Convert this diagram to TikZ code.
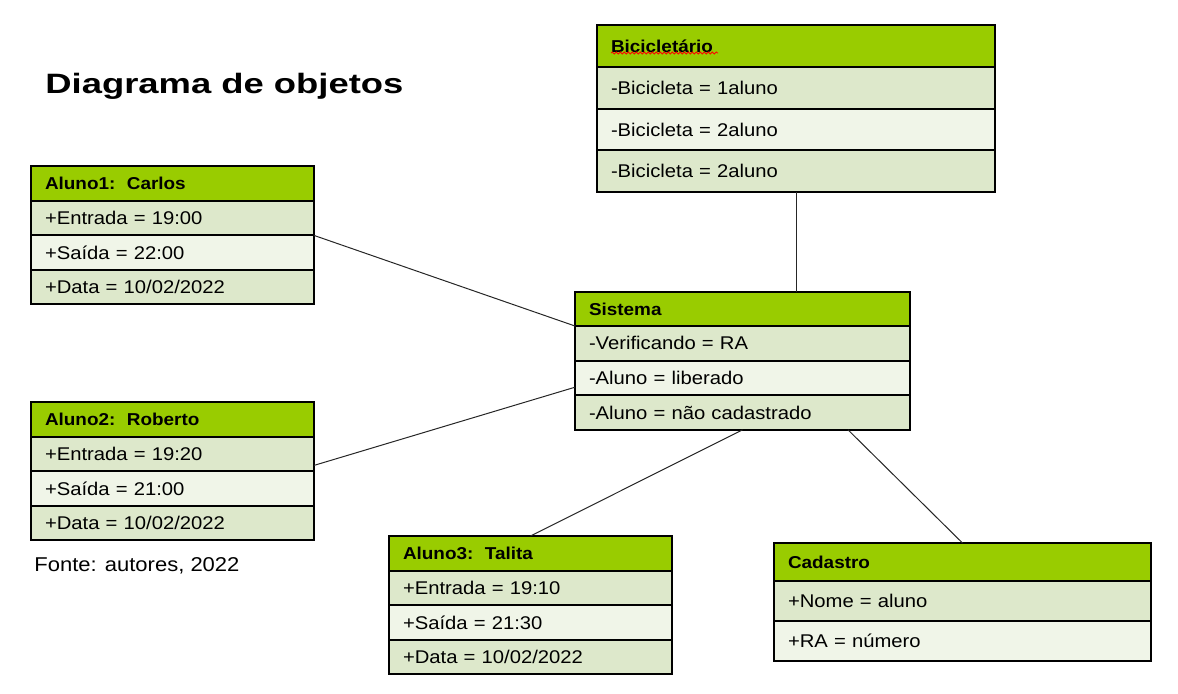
\documentclass[tikz,border=0pt]{standalone}
\usepackage{fontspec}
\setmainfont{Liberation Sans}[FakeStretch=1.1]
\newfontfamily\titlefont{Liberation Sans}[FakeStretch=1.3]
\usetikzlibrary{positioning,decorations.pathmorphing}

\definecolor{headgreen}{RGB}{153,204,0}
\definecolor{rowdark}{RGB}{221,232,203}
\definecolor{rowlight}{RGB}{240,245,232}

\tikzset{
	cell/.style={draw, line width=1pt, outer sep=0pt, inner xsep=7pt, inner ysep=0pt,
		anchor=north west, align=left, font=\fontsize{9.2}{11}\selectfont},
	head/.style={cell, fill=headgreen, font=\bfseries\fontsize{8.6}{10}\selectfont},
	dark/.style={cell, fill=rowdark},
	light/.style={cell, fill=rowlight},
	aluno/.style={text width=127.5pt, minimum height=17.2pt},
	bici/.style={text width=185pt, minimum height=20.85pt},
	sis/.style={text width=153.5pt, minimum height=17.3pt},
	cad/.style={text width=174.5pt, minimum height=20pt},
	link/.style={line width=0.5pt, black!85},
	frame/.style={line width=1pt},
}

\begin{document}
\begin{tikzpicture}[x=0.5pt, y=-0.5pt]
	\useasboundingbox (0,0) rectangle (1178,693);

	\node[font=\titlefont\bfseries\fontsize{14}{16}\selectfont, anchor=base west, inner sep=0pt] (title) at (45,93) {Diagrama de objetos};
	\node[font=\fontsize{10}{12}\selectfont, anchor=base west, inner sep=0pt] (fonte) at (34,571) {Fonte: autores, 2022};

	% Bicicletario
	\node[head, bici, minimum height=21pt] (bh) at (597,25) {Bicicletário};
	\node[dark, bici, below=0pt of bh] (b1) {-Bicicleta = 1aluno};
	\node[light, bici, below=0pt of b1] (b2) {-Bicicleta = 2aluno};
	\node[dark, bici, below=0pt of b2] (b3) {-Bicicleta = 2aluno};
	\draw[red, line width=0.4pt, decorate, decoration={snake, amplitude=0.5pt, segment length=2pt}]
		([xshift=7pt,yshift=-3.5pt]bh.west) -- ([xshift=60.5pt,yshift=-3.5pt]bh.west);

	% Aluno1
	\node[head, aluno, minimum height=17.5pt] (a1h) at (31,166) {Aluno1:\, Carlos};
	\node[dark, aluno, below=0pt of a1h] (a1e) {+Entrada = 19:00};
	\node[light, aluno, below=0pt of a1e] (a1s) {+Saída = 22:00};
	\node[dark, aluno, below=0pt of a1s] (a1d) {+Data = 10/02/2022};

	% Aluno2
	\node[head, aluno, minimum height=17.5pt] (a2h) at (31,402) {Aluno2:\, Roberto};
	\node[dark, aluno, below=0pt of a2h] (a2e) {+Entrada = 19:20};
	\node[light, aluno, below=0pt of a2e] (a2s) {+Saída = 21:00};
	\node[dark, aluno, below=0pt of a2s] (a2d) {+Data = 10/02/2022};

	% Aluno3
	\node[head, aluno, minimum height=17.5pt] (a3h) at (389,536) {Aluno3:\, Talita};
	\node[dark, aluno, below=0pt of a3h] (a3e) {+Entrada = 19:10};
	\node[light, aluno, below=0pt of a3e] (a3s) {+Saída = 21:30};
	\node[dark, aluno, below=0pt of a3s] (a3d) {+Data = 10/02/2022};

	% Sistema
	\node[head, sis, minimum height=17pt] (sh) at (575,292) {Sistema};
	\node[dark, sis, below=0pt of sh] (sv) {-Verificando = RA};
	\node[light, sis, below=0pt of sv] (sl) {-Aluno = liberado};
	\node[dark, sis, below=0pt of sl] (sn) {-Aluno = não cadastrado};

	% Cadastro
	\node[head, cad, minimum height=19pt] (ch) at (774,543) {Cadastro};
	\node[dark, cad, below=0pt of ch] (cn) {+Nome = aluno};
	\node[light, cad, below=0pt of cn] (cr) {+RA = número};

	% borders again, over the fills
	\foreach \n in {bh,b1,b2,b3,a1h,a1e,a1s,a1d,a2h,a2e,a2s,a2d,a3h,a3e,a3s,a3d,sh,sv,sl,sn,ch,cn,cr}
		\draw[frame] (\n.north west) rectangle (\n.south east);

	\path[link] (b3.south) edge (b3.south |- sh.north);
	\path[link] (a1s.north east) edge (sh.south west);
	\path[link] ([yshift=3pt]a2e.south east) edge ([yshift=4pt]sl.south west);
	\path[link] (sn.south) edge (a3h.north);
	\path[link] ([xshift=-31pt]sn.south east) edge (ch.north);
\end{tikzpicture}
\end{document}
